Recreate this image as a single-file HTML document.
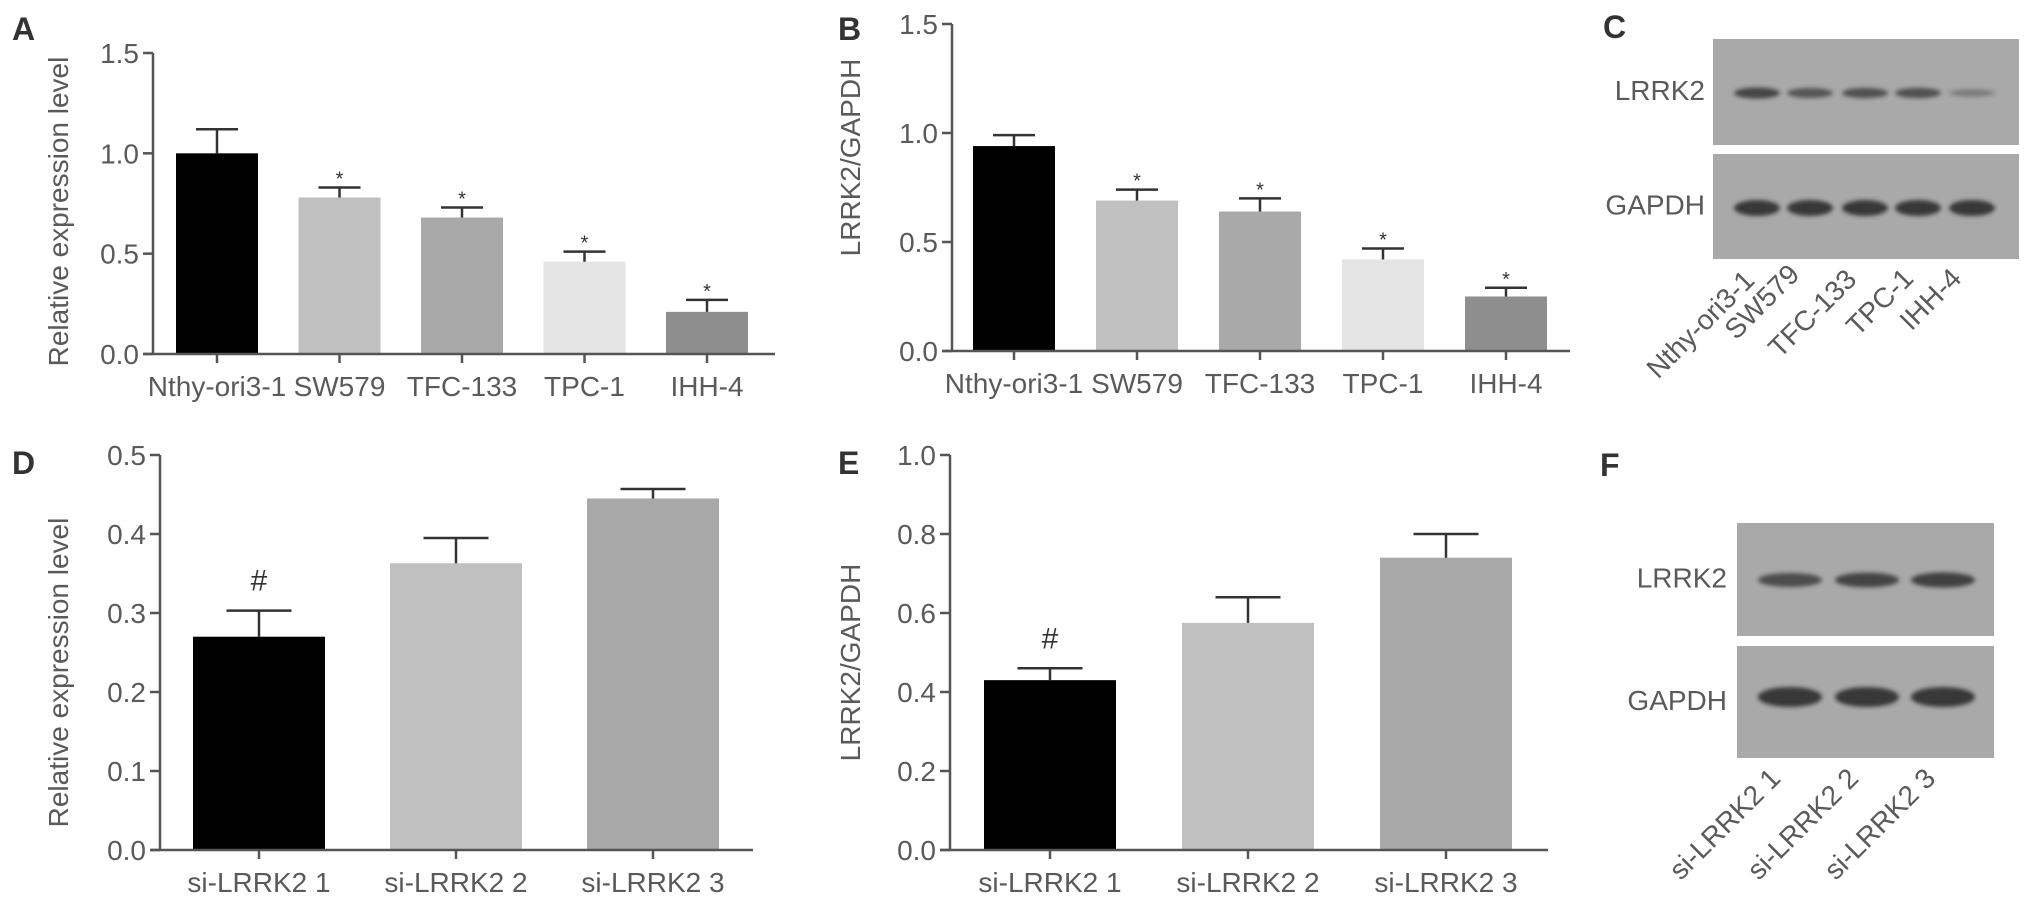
<!DOCTYPE html>
<html><head><meta charset="utf-8"><style>
html,body{margin:0;padding:0;background:#fff;}
svg{display:block;font-family:"Liberation Sans",Arial,sans-serif;}
</style></head><body>
<svg id="fig" width="2031" height="906" viewBox="0 0 2031 906" xmlns="http://www.w3.org/2000/svg">
<defs><filter id="blur" x="-20%" y="-50%" width="140%" height="200%"><feGaussianBlur stdDeviation="2.2"/></filter></defs>
<g id="root"></g>
</svg>
<script>
// Panel A data
const catsAB = ["Nthy-ori3-1","SW579","TFC-133","TPC-1","IHH-4"];
const valuesA = [1.0, 0.78, 0.68, 0.46, 0.21];
const errorsA = [0.12, 0.05, 0.05, 0.05, 0.06];
const starsA = ["", "*", "*", "*", "*"];
// Panel B data
const valuesB = [0.94, 0.69, 0.64, 0.42, 0.25];
const errorsB = [0.05, 0.05, 0.06, 0.05, 0.04];
const starsB = ["", "*", "*", "*", "*"];
const ticksAB = [0, 0.5, 1.0, 1.5];
// Panel D data
const catsDE = ["si-LRRK2 1","si-LRRK2 2","si-LRRK2 3"];
const valuesD = [0.27, 0.363, 0.445];
const errorsD = [0.033, 0.032, 0.012];
const marksD = ["#", "", ""];
const ticksD = [0, 0.1, 0.2, 0.3, 0.4, 0.5];
// Panel E data
const valuesE = [0.43, 0.575, 0.74];
const errorsE = [0.03, 0.065, 0.06];
const marksE = ["#", "", ""];
const ticksE = [0, 0.2, 0.4, 0.6, 0.8, 1.0];
// Western blot band intensities (0..1)
const blotC_LRRK2 = [0.85, 0.65, 0.7, 0.72, 0.2];
const blotC_GAPDH = [1, 1, 1, 1, 1];
const blotF_LRRK2 = [0.75, 0.85, 0.9];
const blotF_GAPDH = [1, 1, 1];

const NS = "http://www.w3.org/2000/svg";
const root = document.getElementById("root");
function mk(tag, attrs, parent, text){
  const e = document.createElementNS(NS, tag);
  for (const k in attrs) e.setAttribute(k, attrs[k]);
  if (text !== undefined) e.textContent = text;
  (parent || root).appendChild(e);
  return e;
}
const AX = "#555", TX = "#5a5a5a";

function barChart(cfg){
  const g = mk("g", {});
  
  
  const yScale = v => cfg.y0 - (v - 0) / cfg.yMax * (cfg.y0 - cfg.yTop);
  const xScale = i => cfg.c0 + i * cfg.step;
  cfg.values.forEach((v, i) => {
    const cx = xScale(i);
    const r = mk("rect", {x: cx - cfg.bw/2, y: yScale(v), width: cfg.bw, height: cfg.y0 - yScale(v), fill: cfg.colors[i]}, g);
    
    
    const top = yScale(v + cfg.errors[i]);
    const eb = mk("path", {d: `M${cx},${yScale(v)}V${top}M${cx - cfg.cap/2},${top}H${cx + cfg.cap/2}`, stroke: "#333", "stroke-width": 2.5, fill: "none"}, g);
    
    
    if (cfg.marks[i]) {
      const isStar = cfg.marks[i] === "*";
      const t = mk("text", {x: cx, y: isStar ? top - 2 : top - 20, "text-anchor": "middle", "font-size": isStar ? 20 : 30, fill: "#333"}, g, cfg.marks[i]);
      
      
    }
    const tk = mk("line", {x1: cx, x2: cx, y1: cfg.y0, y2: cfg.y0 + 9, stroke: AX, "stroke-width": 2.5}, g);
    
    
    const lb = mk("text", {x: cx, y: cfg.y0 + 42, "text-anchor": "middle", "font-size": 28, fill: TX}, g, cfg.cats[i]);
    
    
  });
  const ya = mk("line", {x1: cfg.ax, x2: cfg.ax, y1: cfg.yTop, y2: cfg.y0, stroke: AX, "stroke-width": 2.5}, g);
  
  
  const xa = mk("line", {x1: cfg.ax - 10, x2: cfg.xEnd, y1: cfg.y0, y2: cfg.y0, stroke: AX, "stroke-width": 2.5}, g);
  
  
  cfg.ticks.forEach(t => {
    const y = yScale(t);
    const tl = mk("line", {x1: cfg.ax - 10, x2: cfg.ax, y1: y, y2: y, stroke: AX, "stroke-width": 2.5}, g);
    
    
    const tt = mk("text", {x: cfg.ax - 14, y: y + 10, "text-anchor": "end", "font-size": 28, fill: TX}, g, t.toFixed(1));
    
    
  });
  const ymid = (cfg.yTop + cfg.y0) / 2 + cfg.titleShift;
  const yt = mk("text", {x: cfg.titleX, y: ymid, "text-anchor": "middle", "font-size": 28, fill: TX, transform: `rotate(-90 ${cfg.titleX} ${ymid})`}, g, cfg.title);
  
  
  const pl = mk("text", {x: cfg.lx, y: cfg.ly, "font-size": 32, "font-weight": "bold", fill: "#333"}, g, cfg.letter);
  
  
}

const colors5 = ["#000", "#c0c0c0", "#a9a9a9", "#e4e4e4", "#8e8e8e"];
const colors3 = ["#000", "#c0c0c0", "#a8a8a8"];

barChart({name:"chart-a", letter:"A", lx:12, ly:40, cats:catsAB, values:valuesA, errors:errorsA, marks:starsA, ticks:ticksAB,
  yMax:1.5, y0:354, yTop:53, ax:153, xEnd:775, c0:217, step:122.5, bw:82, cap:42, colors:colors5,
  title:"Relative  expression level", titleX:68, titleShift:8});
barChart({name:"chart-b", letter:"B", lx:838, ly:40, cats:catsAB, values:valuesB, errors:errorsB, marks:starsB, ticks:ticksAB,
  yMax:1.5, y0:351, yTop:24, ax:952, xEnd:1570, c0:1014, step:123, bw:82, cap:42, colors:colors5,
  title:"LRRK2/GAPDH", titleX:860, titleShift:-30});
barChart({name:"chart-d", letter:"D", lx:12, ly:474, cats:catsDE, values:valuesD, errors:errorsD, marks:marksD, ticks:ticksD,
  yMax:0.5, y0:850, yTop:455, ax:160, xEnd:753, c0:259, step:197, bw:132, cap:65, colors:colors3,
  title:"Relative expression level", titleX:68, titleShift:20});
barChart({name:"chart-e", letter:"E", lx:838, ly:474, cats:catsDE, values:valuesE, errors:errorsE, marks:marksE, ticks:ticksE,
  yMax:1.0, y0:850, yTop:455, ax:950, xEnd:1548, c0:1050, step:198, bw:132, cap:65, colors:colors3,
  title:"LRRK2/GAPDH", titleX:860, titleShift:10});

function blot(cfg){
  const g = mk("g", {});
  
  
  const rows = [{lab:"LRRK2", y0:cfg.top1, y1:cfg.bot1, vals:cfg.lrrk, by:cfg.band1, th:cfg.th1},
                {lab:"GAPDH", y0:cfg.top2, y1:cfg.bot2, vals:cfg.gapdh, by:cfg.band2, th:cfg.th2}];
  rows.forEach(r => {
    const box = mk("rect", {x: cfg.x0, y: r.y0, width: cfg.x1 - cfg.x0, height: r.y1 - r.y0, fill: "#a9a9a9"}, g);
    
    
    r.vals.forEach((v, i) => {
      const cx = cfg.lanes[i];
      const b = mk("ellipse", {cx: cx, cy: r.by, rx: cfg.bandW/2, ry: r.th * (0.5 + 0.5*v), fill: "#333", opacity: 0.25 + 0.7*v, filter: "url(#blur)"}, g);
      
      
    });
    const t = mk("text", {x: cfg.labX, y: (r.y0 + r.y1)/2 + 8, "text-anchor": "end", "font-size": 28, fill: TX}, g, r.lab);
    
    
  });
  cfg.cats.forEach((c, i) => {
    const ex = cfg.ends[i][0], ey = cfg.ends[i][1];
    const t = mk("text", {x: ex, y: ey, "text-anchor": "end", "font-size": 28, fill: TX, transform: `rotate(-45 ${ex} ${ey})`}, g, c);
    
    
  });
  const pl = mk("text", {x: cfg.lx, y: cfg.ly, "font-size": 32, "font-weight": "bold", fill: "#333"}, g, cfg.letter);
  
  
}

blot({name:"blot-c", letter:"C", lx:1603, ly:38, x0:1713, x1:2019, top1:39, bot1:145, top2:154, bot2:259,
  band1:93, band2:208, th1:6, th2:8, lanes:[1757,1810,1865,1918,1972], bandW:46, lrrk:blotC_LRRK2, gapdh:blotC_GAPDH,
  labX:1705, cats:catsAB, ends:[[1756,282],[1801,276],[1858,281],[1915,280],[1963,280]]});
blot({name:"blot-f", letter:"F", lx:1600, ly:476, x0:1737, x1:1994, top1:523, bot1:636, top2:646, bot2:758,
  band1:580, band2:697, th1:8, th2:10, lanes:[1790,1867,1943], bandW:64, lrrk:blotF_LRRK2, gapdh:blotF_GAPDH,
  labX:1727, cats:catsDE, ends:[[1782,780],[1860,780],[1937,780]]});
</script>
</body></html>
